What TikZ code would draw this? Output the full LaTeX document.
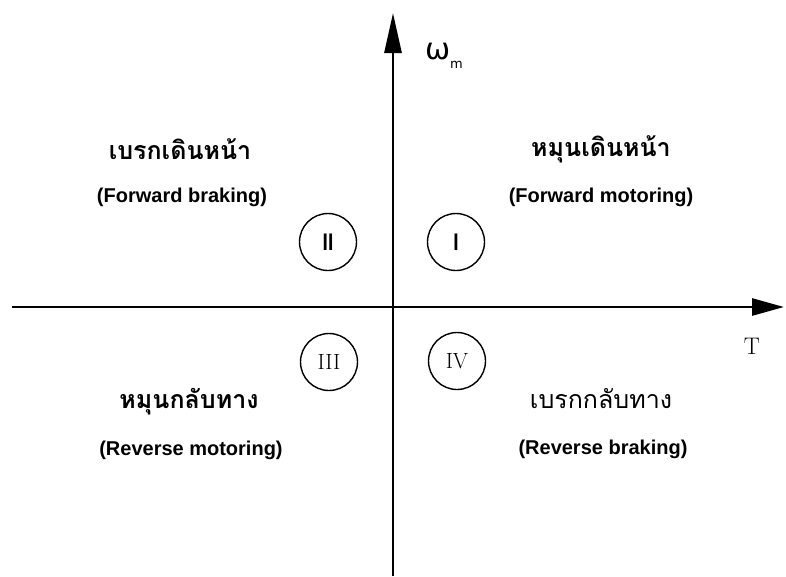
\documentclass[tikz,border=0pt]{standalone}
\usepackage{fontspec}
\setsansfont{Liberation Sans}
\newfontfamily\thaifont[Script=Thai]{Loma}
\newfontfamily\symfont{DejaVu Sans}
\usetikzlibrary{arrows.meta,positioning}

\begin{document}
\begin{tikzpicture}[
  x=1pt,y=-1pt,
  axis/.style={line width=2.8pt},
  quad/.style={draw,circle,line width=1.4pt,minimum size=57pt,inner sep=0pt},
  thlabel/.style={font=\thaifont\bfseries\fontsize{25}{27}\selectfont},
  thlight/.style={font=\thaifont\fontsize{25}{27}\selectfont},
  enlabel/.style={font=\sffamily\bfseries\fontsize{20}{22}\selectfont}
]
\useasboundingbox (0,0) rectangle (786,576);
% axes
\coordinate (orig) at (393,307);
\coordinate (ybot) at (393,576);
\coordinate (ytop) at (393,13);
\coordinate (xleft) at (12,307);
\coordinate (xright) at (784,307);
\draw[axis,-{Triangle[length=40pt,width=17pt]}] (ybot) -- (ytop);
\draw[axis,-{Triangle[length=32pt,width=17pt]}] (xleft) -- (xright);
\node[font=\symfont\fontsize{30}{30}\selectfont] (wm) at (444,56)
  {ω\raisebox{-9pt}{\fontsize{13}{13}\selectfont m}};
\node[font=\fontsize{24}{24}\selectfont] (tq) at (752,346) {T};
% quadrant numbers
\node[quad,font=\sffamily\bfseries\fontsize{24}{24}\selectfont] (q2) at (328,242) {\scalebox{0.8}[1]{II}};
\node[quad,font=\sffamily\bfseries\fontsize{24}{24}\selectfont] (q1) at (456,242) {\scalebox{0.8}[1]{I}};
\node[quad,font=\fontsize{22}{22}\selectfont] (q3) at (329,362) {III};
\node[quad,font=\fontsize{22}{22}\selectfont] (q4) at (457,361) {IV};
% quadrant names
\node[thlabel] (fbth) at (180,149) {เบรกเดินหน้า};
\node[enlabel] (fben) at (182,197) {(Forward braking)};
\node[thlabel] (fmth) at (601,149) {หมุนเดินหน้า};
\node[enlabel] (fmen) at (601,197) {(Forward motoring)};
\node[thlabel] (rmth) at (189,402) {หมุนกลับทาง};
\node[enlabel] (rmen) at (191,450) {(Reverse motoring)};
\node[thlight] (rbth) at (601,399) {เบรกกลับทาง};
\node[enlabel] (rben) at (603,449) {(Reverse braking)};
\end{tikzpicture}
\end{document}
